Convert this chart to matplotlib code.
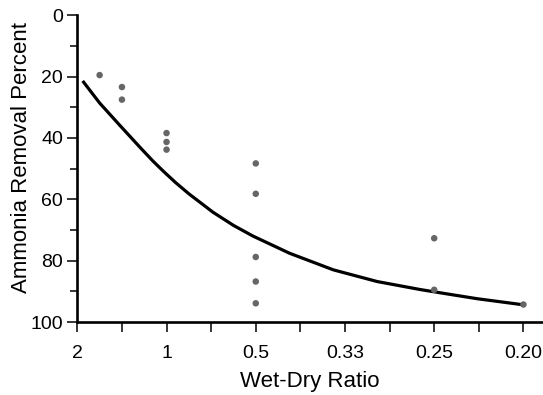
import matplotlib
matplotlib.use("Agg")
import matplotlib.pyplot as plt
from matplotlib.ticker import MultipleLocator, FixedLocator

plt.rcParams['font.family'] = ['Liberation Sans', 'DejaVu Sans']

# Wet-dry ratio categories, evenly spaced along the axis
ratio_labels = ["2", "1", "0.5", "0.33", "0.25", "0.20"]
ratio_pos = [0, 1, 2, 3, 4, 5]

# Measured removal (position on ratio axis, percent)
obs_pos = [0.25, 0.5, 0.5, 1, 1, 1, 2, 2, 2, 2, 2, 4, 4, 5]
obs_removal = [19.5, 23.4, 27.5, 38.4, 41.3, 43.8, 48.3, 58.2, 78.8, 86.8, 93.9, 72.7, 89.5, 94.3]

# Fitted trend curve
fit_pos = [0.06, 0.25, 0.48, 0.72, 0.85, 0.97, 1.1, 1.25, 1.52, 1.75, 1.97, 2.38, 2.87, 3.36, 3.84, 4.2, 4.48, 5.0]
fit_removal = [21.4, 28.6, 36.0, 43.6, 47.6, 51.0, 54.5, 58.2, 64.2, 68.5, 72.0, 77.6, 83.0, 86.8, 89.4, 91.1, 92.4, 94.4]

fig = plt.figure(figsize=(5.43, 3.95), dpi=100)
ax = fig.add_axes([0.1424, 0.1848, 0.8577, 0.7765])

ax.plot(fit_pos, fit_removal, color="black", lw=2.3, solid_capstyle="butt",
        solid_joinstyle="round", zorder=2)
ax.scatter(obs_pos, obs_removal, s=22, color="#666666", edgecolors="none", zorder=3)

ax.set_xlim(0, 5.22)
ax.set_ylim(100, 0)

ax.xaxis.set_major_locator(FixedLocator(ratio_pos))
ax.set_xticklabels(ratio_labels)
ax.xaxis.set_minor_locator(FixedLocator([0.5, 1.5, 2.5, 3.5, 4.5]))
ax.yaxis.set_major_locator(MultipleLocator(20))
ax.yaxis.set_minor_locator(MultipleLocator(10))

for side in ("top", "right"):
    ax.spines[side].set_visible(False)
for side in ("left", "bottom"):
    ax.spines[side].set_linewidth(1.9)
    ax.spines[side].set_capstyle("projecting")

ax.tick_params(axis="both", which="major", direction="out", length=7.2, width=1.1,
               labelsize=14, colors="black")
ax.tick_params(axis="y", which="major", pad=3)
ax.tick_params(axis="x", which="major", pad=9.5)
ax.tick_params(axis="y", which="minor", direction="out", length=5, width=1.1)
ax.tick_params(axis="x", which="minor", direction="out", length=7.2, width=1.1)

ax.set_xlabel("Wet-Dry Ratio", fontsize=16, labelpad=6)
ax.set_ylabel("Ammonia Removal Percent", fontsize=16)
ax.yaxis.set_label_coords(-0.098, 0.535)

fig.savefig("out.png", dpi=100)
